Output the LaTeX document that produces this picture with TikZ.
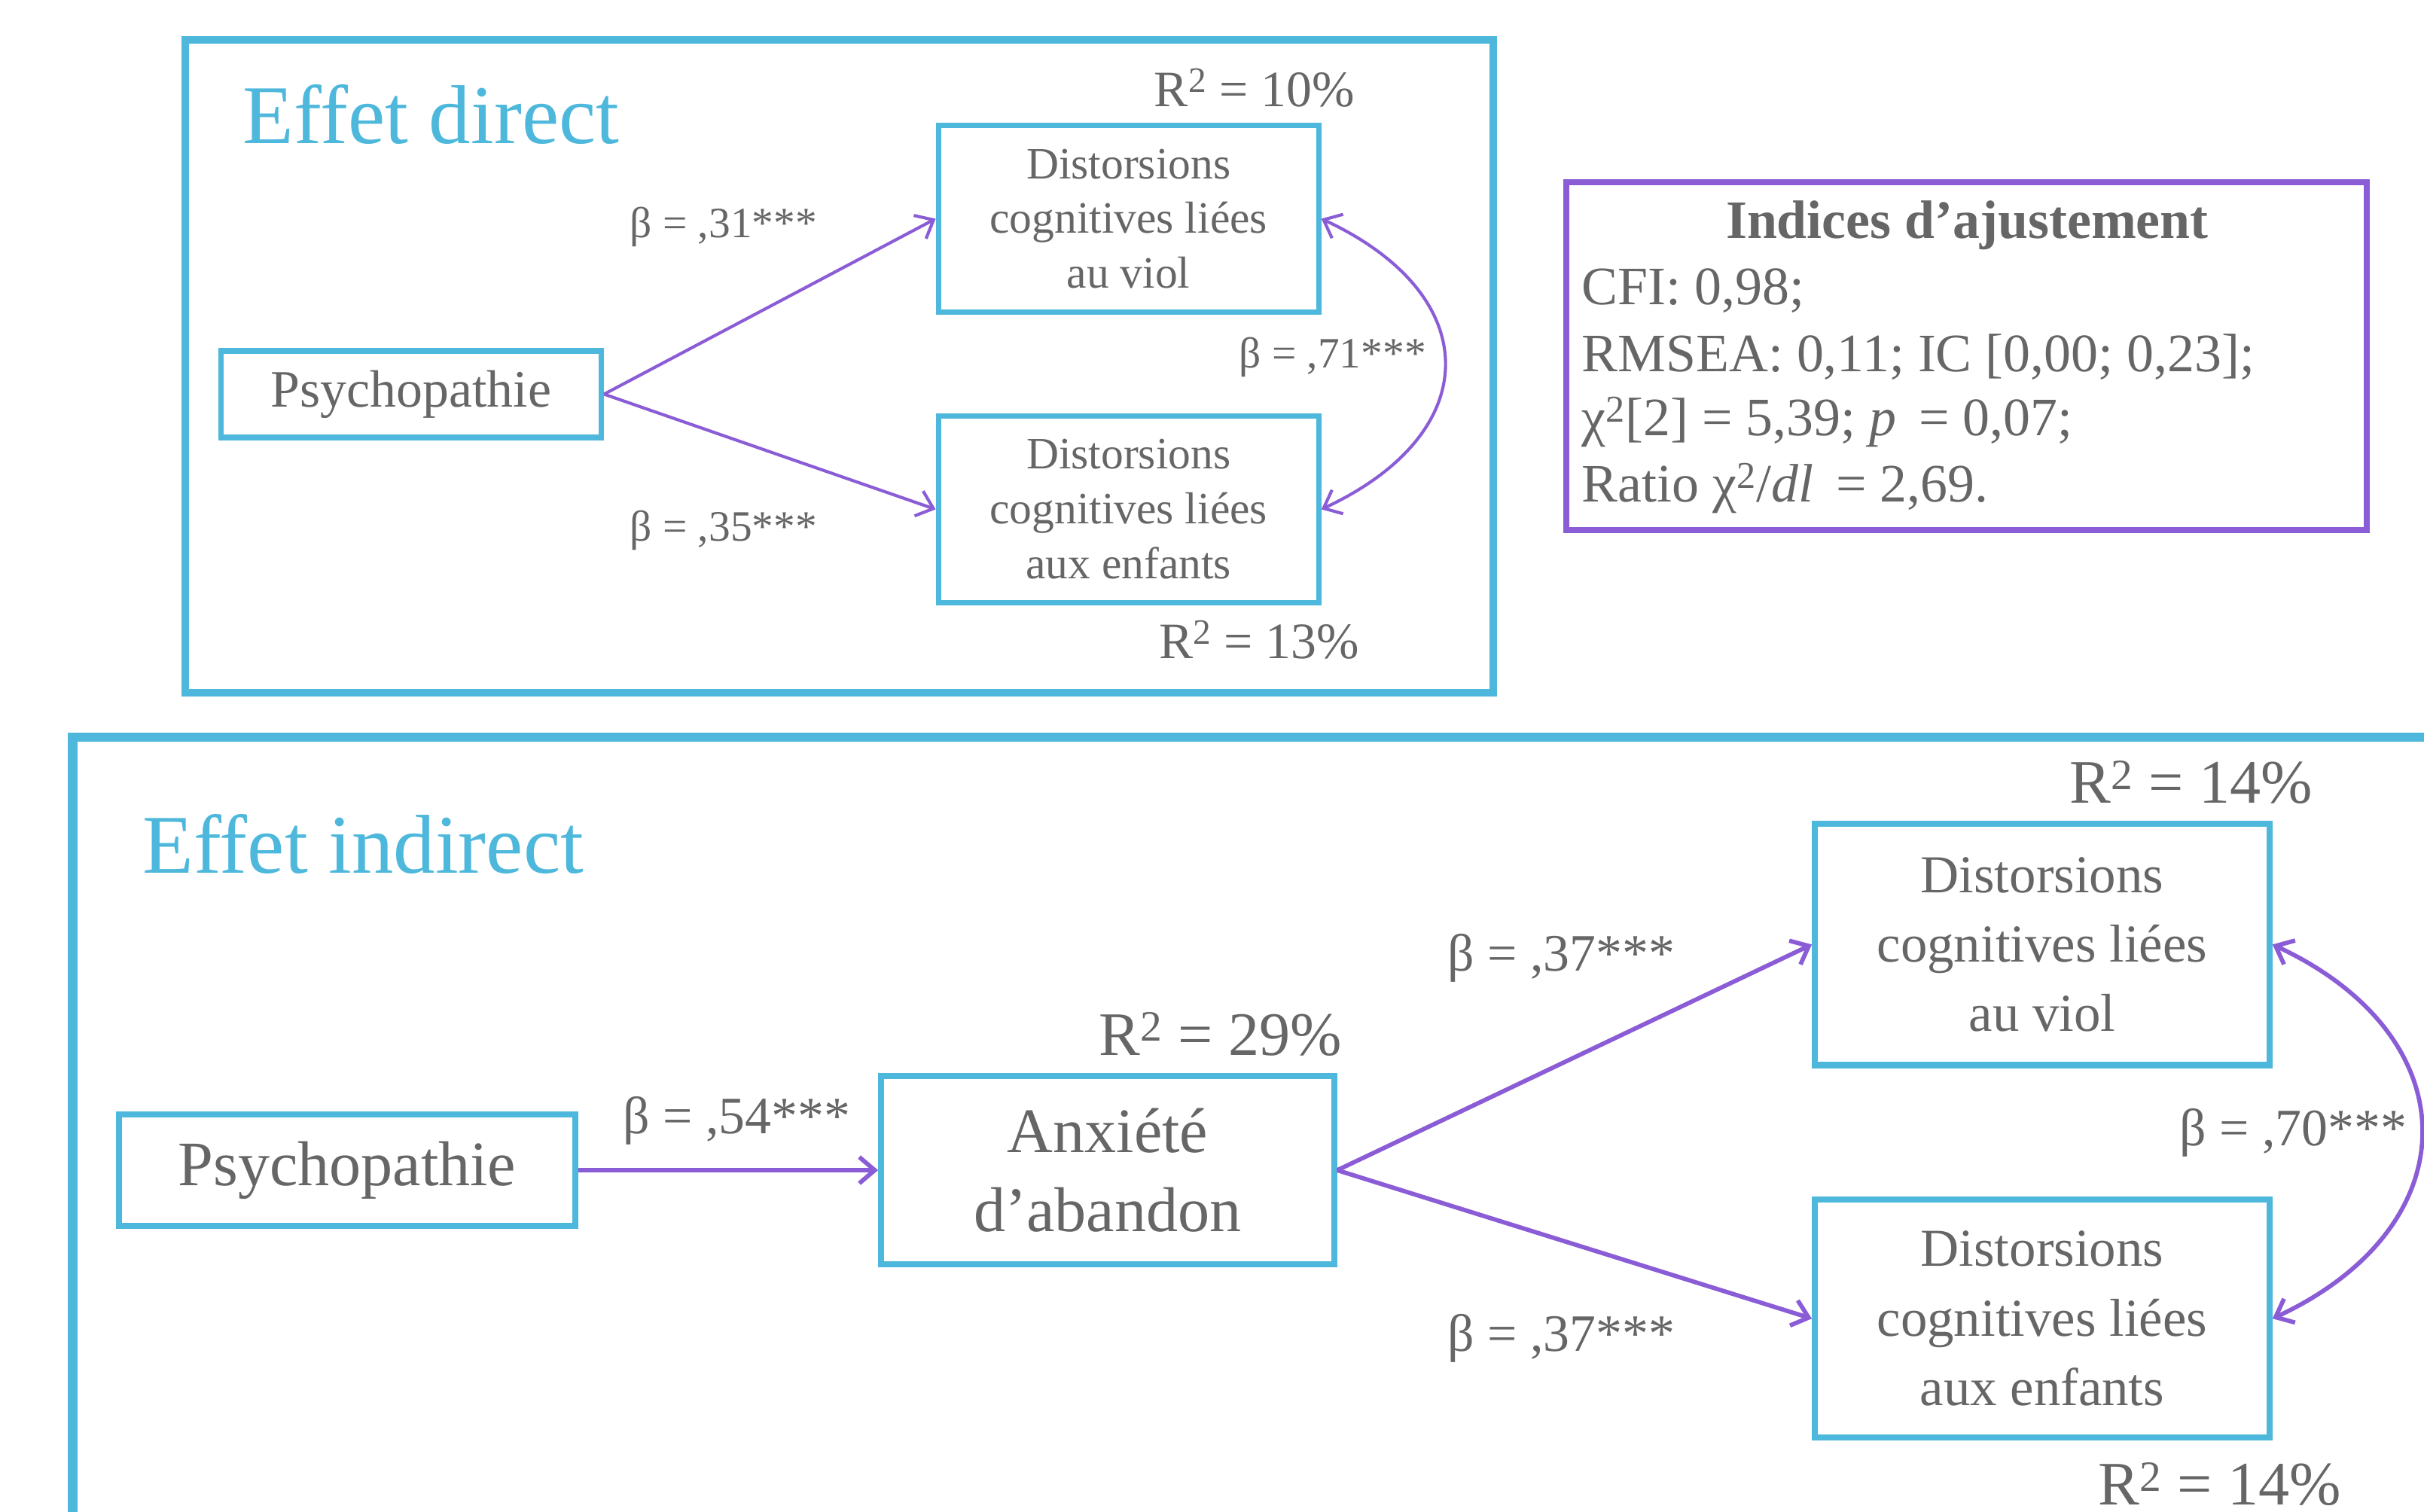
\documentclass[tikz,border=0pt]{standalone}
\usepackage{fontspec}
\setmainfont{Liberation Serif}
\usetikzlibrary{arrows.meta}
\definecolor{boxblue}{HTML}{4DB8DB}
\definecolor{linkpurple}{HTML}{8A5CD6}
\definecolor{textgray}{HTML}{666666}
\newcommand{\fs}[2]{\fontsize{#1}{#2}\selectfont}
\tikzset{
  arrow/.style={-{Straight Barb[length=10pt,width=17pt]}, linkpurple},
  dblarrow/.style={{Straight Barb[length=10pt,width=17pt]}-{Straight Barb[length=10pt,width=17pt]}, linkpurple},
  panel/.style={draw=boxblue, line width=5pt},
  var/.style={draw=boxblue, align=center, text=textgray, inner sep=0pt},
  coef/.style={text=textgray, inner sep=0pt},
  title/.style={text=boxblue, inner sep=0pt, anchor=base west, font=\fs{54}{60}},
}

\begin{document}
\begin{tikzpicture}[x=1pt, y=1pt]
    \useasboundingbox (0,0) rectangle (1568,978);
    \clip (0,0) rectangle (1568,978);
    \draw[panel] (120,952) rectangle (966,530);
    \draw[panel, line width=6pt] (47,501) rectangle (1600,-40);
    \node[title] (direct) at (157,885) {Effet direct};
    \node[title] (indirect) at (92,413) {Effet indirect};

    \node[var, line width=3.5pt, minimum width=246, minimum height=56, font=\fs{34}{40}] (psyA) at (266,723) {Psychopathie};
    \node[var, line width=3.5pt, minimum width=246, minimum height=121, font=\fs{29}{35.5}] (violA) at (730,836.5) {Distorsions\\cognitives liées\\au viol};
    \node[var, line width=3.5pt, minimum width=246, minimum height=121, font=\fs{29}{35.5}] (enfA) at (730,648.5) {Distorsions\\cognitives liées\\aux enfants};
    \draw[arrow, line width=2pt] (psyA.east) to (violA.west);
    \draw[arrow, line width=2pt] (psyA.east) to (enfA.west);
    \draw[dblarrow, line width=2pt] (violA.east) to[out=-25, in=25, looseness=1.6] (enfA.east);
    \node[coef, font=\fs{33}{38}] (r2violA) at (811.5,921) {R\textsuperscript{2} = 10\%};
    \node[coef, font=\fs{33}{38}] (r2enfA) at (814.5,564) {R\textsuperscript{2} = 13\%};
    \node[coef, font=\fs{28}{34}] (bviolA) at (468,831) {β = ,31***};
    \node[coef, font=\fs{28}{34}] (benfA) at (468,635) {β = ,35***};
    \node[coef, font=\fs{28}{34}] (bcovA) at (862,747) {β = ,71***};

    \node[draw=linkpurple, line width=4pt, minimum width=518, minimum height=225] (indices) at (1272,747.5) {};
    \node[coef, font=\fs{35}{43}\bfseries] (indtitle) at (1272.5,832) {Indices d’ajustement};
    \node[coef, anchor=west, font=\fs{35}{43}] (cfi) at (1023,790) {CFI: 0,98;};
    \node[coef, anchor=west, font=\fs{35}{43}] (rmsea) at (1023,747) {RMSEA: 0,11; IC [0,00; 0,23];};
    \node[coef, anchor=west, font=\fs{35}{43}] (chi) at (1023,705) {χ\textsuperscript{2}[2] = 5,39; \textit{p}\, = 0,07;};
    \node[coef, anchor=west, font=\fs{35}{43}] (ratio) at (1023,662) {Ratio χ\textsuperscript{2}/\textit{dl}\, = 2,69.};

    \node[var, line width=4pt, minimum width=295, minimum height=72, font=\fs{41}{48}] (psyB) at (224.5,221) {Psychopathie};
    \node[var, line width=4pt, minimum width=293, minimum height=122, font=\fs{41}{51}] (anx) at (716.5,221) {Anxiété\\d’abandon};
    \node[var, line width=4pt, minimum width=294, minimum height=156, font=\fs{34.5}{45}] (violB) at (1321,367) {Distorsions\\cognitives liées\\au viol};
    \node[var, line width=4pt, minimum width=294, minimum height=154, font=\fs{34.5}{45}] (enfB) at (1321,125) {Distorsions\\cognitives liées\\aux enfants};
    \draw[arrow, line width=2.8pt] (psyB.east) to (anx.west);
    \draw[arrow, line width=2.8pt] (anx.east) to (violB.west);
    \draw[arrow, line width=2.8pt] (anx.east) to (enfB.west);
    \draw[dblarrow, line width=2.8pt] (violB.east) to[out=-25, in=25, looseness=1.5] (enfB.east);
    \node[coef, font=\fs{40}{46}] (r2anx) at (789.5,309) {R\textsuperscript{2} = 29\%};
    \node[coef, font=\fs{40}{46}] (r2violB) at (1417.5,472) {R\textsuperscript{2} = 14\%};
    \node[coef, font=\fs{40}{46}] (r2enfB) at (1436,18) {R\textsuperscript{2} = 14\%};
    \node[coef, font=\fs{34}{40}] (banx) at (476.5,253) {β = ,54***};
    \node[coef, font=\fs{34}{40}] (bviolB) at (1010,358) {β = ,37***};
    \node[coef, font=\fs{34}{40}] (benfB) at (1010,112) {β = ,37***};
    \node[coef, font=\fs{34}{40}] (bcovB) at (1483.5,245) {β = ,70***};
\end{tikzpicture}
\end{document}
